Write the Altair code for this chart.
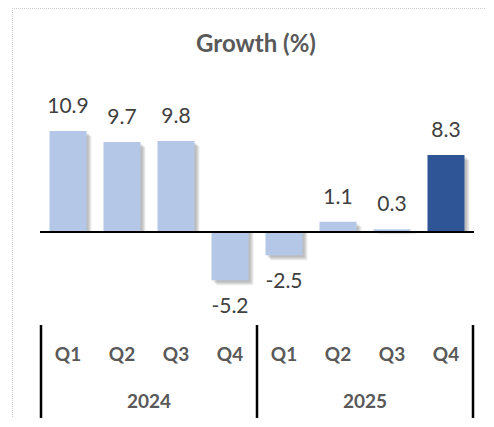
import altair as alt
import pandas as pd

years = ["2024", "2024", "2024", "2024", "2025", "2025", "2025", "2025"]
quarters = ["Q1", "Q2", "Q3", "Q4", "Q1", "Q2", "Q3", "Q4"]
values = [10.9, 9.7, 9.8, -5.2, -2.5, 1.1, 0.3, 8.3]
title_text = "Growth (%)"

LIGHT = "#b4c7e7"
DARK = "#2f5597"
FONT = "Lato"

df = pd.DataFrame({"year": years, "quarter": quarters, "value": values})
df["key"] = df["year"] + " " + df["quarter"]
df["label"] = [f"{v:.1f}" for v in values]

order = list(df["key"])
W, H = 432, 400
DOMAIN = [-18.99, 24.16]

x = alt.X("key:N", sort=order, axis=None,
          scale=alt.Scale(paddingInner=0.315, paddingOuter=0.1575))
y = alt.Y("value:Q", axis=None,
          scale=alt.Scale(domain=DOMAIN, nice=False, zero=False))

base = alt.Chart(df)

shadows = [
    base.mark_bar(color="black", opacity=0.07, xOffset=k, yOffset=k).encode(x=x, y=y, y2=alt.datum(0))
    for k in (2, 3, 4, 5)
]

bars = base.mark_bar().encode(
    x=x, y=y, y2=alt.datum(0),
    color=alt.condition("datum.key == '2025 Q4'", alt.value(DARK), alt.value(LIGHT)),
)

zero = alt.Chart(pd.DataFrame({"v": [0]})).mark_rule(color="black", strokeWidth=2).encode(
    y=alt.Y("v:Q", scale=alt.Scale(domain=DOMAIN, nice=False, zero=False), axis=None),
    x=alt.value(-1), x2=alt.value(W + 1),
)

pos_labels = base.transform_filter("datum.value >= 0").mark_text(
    font=FONT, fontSize=21, color="#404040", baseline="alphabetic", dy=-18
).encode(x=x, y=y, text="label:N")

neg_labels = base.transform_filter("datum.value < 0").mark_text(
    font=FONT, fontSize=21, color="#404040", baseline="top", dy=16
).encode(x=x, y=y, text="label:N")

q_labels = base.mark_text(
    font=FONT, fontSize=19, fontWeight="bold", color="#595959", baseline="middle"
).encode(x=x, y=alt.value(347), text="quarter:N")

year_labels = base.transform_filter("datum.quarter == 'Q2'").mark_text(
    font=FONT, fontSize=19, fontWeight="bold", color="#595959", baseline="middle", dx=27
).encode(x=x, y=alt.value(394), text="year:N")

sep_left = base.transform_filter("datum.quarter == 'Q1'").mark_rule(
    color="black", strokeWidth=2.5, xOffset=-27
).encode(x=x, y=alt.value(317), y2=alt.value(410))

sep_right = base.transform_filter("datum.key == '2025 Q4'").mark_rule(
    color="black", strokeWidth=2.5, xOffset=27
).encode(x=x, y=alt.value(317), y2=alt.value(410))

title = alt.Chart(pd.DataFrame({"t": [title_text]})).mark_text(
    font=FONT, fontSize=24, fontWeight="bold", color="#595959", baseline="middle"
).encode(x=alt.value(W / 2 - 1), y=alt.value(37), text="t:N")

border_top = alt.Chart(pd.DataFrame({"a": [0]})).mark_rule(
    color="#cfcfcf", strokeWidth=1, strokeDash=[1, 1]
).encode(x=alt.value(-29), x2=alt.value(W + 12), y=alt.value(0.5))

border_left = alt.Chart(pd.DataFrame({"a": [0]})).mark_rule(
    color="#cfcfcf", strokeWidth=1, strokeDash=[1, 1]
).encode(x=alt.value(-28.5), y=alt.value(0), y2=alt.value(H + 10))

chart = alt.layer(
    border_top, border_left, *shadows, bars, zero, pos_labels, neg_labels,
    q_labels, year_labels, sep_left, sep_right, title
).properties(
    width=W, height=H,
    autosize=alt.AutoSizeParams(type="none"),
    padding={"left": 33, "top": 0, "right": 12, "bottom": 10},
).configure_view(stroke=None)

chart.save("out.html", embed_options={"renderer": "svg", "actions": False})
